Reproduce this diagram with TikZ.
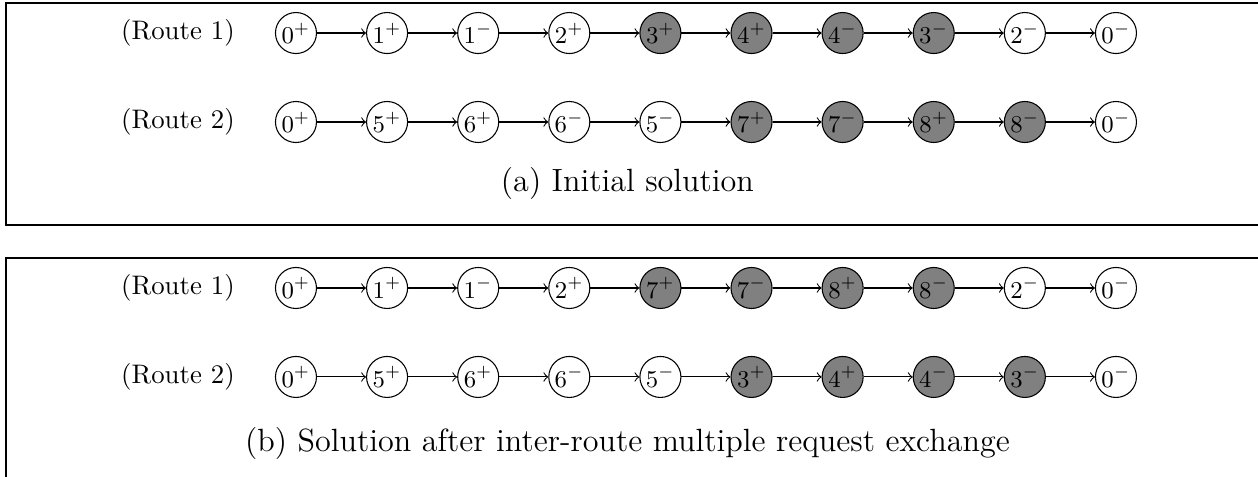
\documentclass[tikz,border=0pt]{standalone}
\usepackage{amsmath}
\usepackage{tikz}

\begin{document}
\begin{tikzpicture}[->, auto, node distance=1.195cm]
        \tikzset{
           request/.style={
                        circle,
                        draw=black,
                        fill=white,
                        text=black,
                        inner sep=0pt,
                        minimum size=0.538cm,
                        font=\small
                       },
           moved/.style={
                        request,
                        fill=gray
                       },
           routeLabel/.style={
                        font=\normalsize,
                        text=black
                       },
           subCaption/.style={
                        font=\large,
                        text=black
                       },
           frameLine/.style={
                        -,
                        draw=black
                       },
                 };
        \useasboundingbox (0,0) rectangle (16.5,-6.256);
    %--------------------
        \draw[frameLine] (16.6,-0.039) -| (0.079,-2.951) -- (16.6,-2.951);
        \draw[frameLine] (16.6,-3.384) -| (0.079,-6.4);
    %--------------------
        \node[routeLabel] (labA1) at (2.334,-0.433) {(Route 1)};
        \node[request] (a1n0) at (3.882,-0.433) {$0^+$};
        \node[request] (a1n1) [right of=a1n0] {$1^+$};
        \node[request] (a1n2) [right of=a1n1] {$1^-$};
        \node[request] (a1n3) [right of=a1n2] {$2^+$};
        \node[moved]   (a1n4) [right of=a1n3] {$3^+$};
        \node[moved]   (a1n5) [right of=a1n4] {$4^+$};
        \node[moved]   (a1n6) [right of=a1n5] {$4^-$};
        \node[moved]   (a1n7) [right of=a1n6] {$3^-$};
        \node[request] (a1n8) [right of=a1n7] {$2^-$};
        \node[request] (a1n9) [right of=a1n8] {$0^-$};

        \node[routeLabel] (labA2) at (2.334,-1.600) {(Route 2)};
        \node[request] (a2n0) at (3.882,-1.600) {$0^+$};
        \node[request] (a2n1) [right of=a2n0] {$5^+$};
        \node[request] (a2n2) [right of=a2n1] {$6^+$};
        \node[request] (a2n3) [right of=a2n2] {$6^-$};
        \node[request] (a2n4) [right of=a2n3] {$5^-$};
        \node[moved]   (a2n5) [right of=a2n4] {$7^+$};
        \node[moved]   (a2n6) [right of=a2n5] {$7^-$};
        \node[moved]   (a2n7) [right of=a2n6] {$8^+$};
        \node[moved]   (a2n8) [right of=a2n7] {$8^-$};
        \node[request] (a2n9) [right of=a2n8] {$0^-$};

        \node[subCaption] (capA) at (8.230,-2.400) {(a) Initial solution};
    %--------------------
        \node[routeLabel] (labB1) at (2.334,-3.777) {(Route 1)};
        \node[request] (b1n0) at (3.882,-3.777) {$0^+$};
        \node[request] (b1n1) [right of=b1n0] {$1^+$};
        \node[request] (b1n2) [right of=b1n1] {$1^-$};
        \node[request] (b1n3) [right of=b1n2] {$2^+$};
        \node[moved]   (b1n4) [right of=b1n3] {$7^+$};
        \node[moved]   (b1n5) [right of=b1n4] {$7^-$};
        \node[moved]   (b1n6) [right of=b1n5] {$8^+$};
        \node[moved]   (b1n7) [right of=b1n6] {$8^-$};
        \node[request] (b1n8) [right of=b1n7] {$2^-$};
        \node[request] (b1n9) [right of=b1n8] {$0^-$};

        \node[routeLabel] (labB2) at (2.334,-4.944) {(Route 2)};
        \node[request] (b2n0) at (3.882,-4.944) {$0^+$};
        \node[request] (b2n1) [right of=b2n0] {$5^+$};
        \node[request] (b2n2) [right of=b2n1] {$6^+$};
        \node[request] (b2n3) [right of=b2n2] {$6^-$};
        \node[request] (b2n4) [right of=b2n3] {$5^-$};
        \node[moved]   (b2n5) [right of=b2n4] {$3^+$};
        \node[moved]   (b2n6) [right of=b2n5] {$4^+$};
        \node[moved]   (b2n7) [right of=b2n6] {$4^-$};
        \node[moved]   (b2n8) [right of=b2n7] {$3^-$};
        \node[request] (b2n9) [right of=b2n8] {$0^-$};

        \node[subCaption] (capB) at (8.230,-5.810) {(b) Solution after inter-route multiple request exchange};
    %--------------------
        \foreach \rw in {a1,a2,b1,b2}
          \foreach \i [count=\j] in {0,...,8}
            \path (\rw n\i) edge (\rw n\j);
    \end{tikzpicture}
\end{document}
